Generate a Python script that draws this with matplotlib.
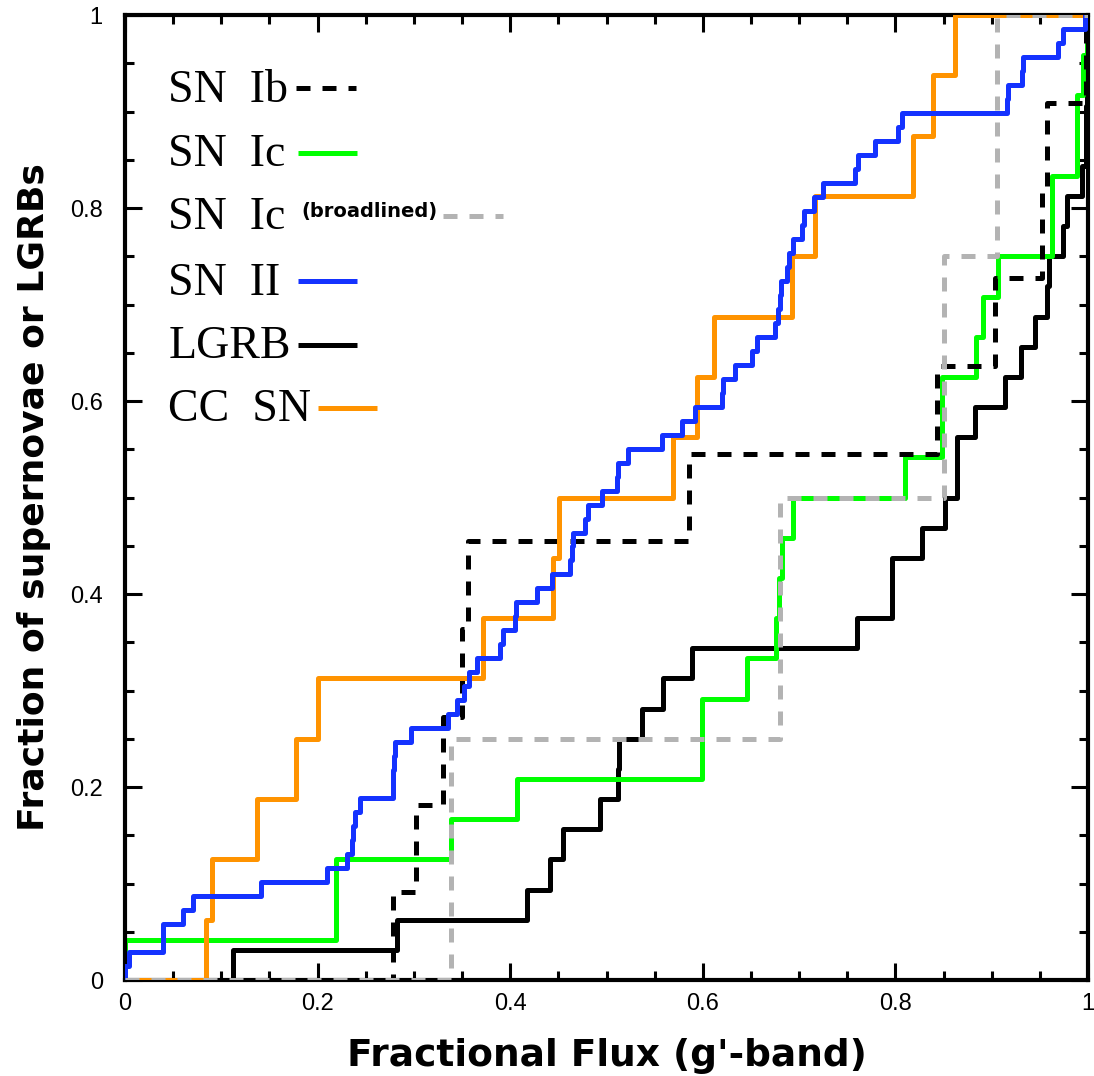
import numpy as np
import matplotlib
matplotlib.use('Agg')
import matplotlib.pyplot as plt
from matplotlib.ticker import MultipleLocator, FuncFormatter

# fractional flux (g'-band) of each object, sorted
sn_ib = [0.278, 0.302, 0.330, 0.350, 0.356, 0.586, 0.843, 0.903, 0.952, 0.957, 0.998]
sn_ic = [0.0, 0.219, 0.219, 0.338, 0.407, 0.599, 0.599, 0.646, 0.676, 0.679,
         0.682, 0.694, 0.810, 0.848, 0.848, 0.884, 0.891, 0.907, 0.963, 0.963,
         0.989, 0.989, 0.995, 0.999]
sn_ic_bl = [0.338, 0.680, 0.850, 0.906]
sn_ii = [0.0, 0.004, 0.039, 0.039, 0.060, 0.071, 0.141, 0.210, 0.231, 0.236,
         0.237, 0.239, 0.244, 0.278, 0.278, 0.279, 0.280, 0.297, 0.335, 0.345,
         0.352, 0.357, 0.366, 0.389, 0.393, 0.405, 0.406, 0.428, 0.443, 0.462,
         0.464, 0.465, 0.478, 0.481, 0.495, 0.511, 0.512, 0.522, 0.558, 0.578,
         0.592, 0.620, 0.621, 0.633, 0.651, 0.656, 0.675, 0.678, 0.680, 0.681,
         0.687, 0.690, 0.694, 0.703, 0.705, 0.715, 0.725, 0.758, 0.761, 0.779,
         0.803, 0.807, 0.916, 0.917, 0.931, 0.932, 0.969, 0.974, 0.997]
lgrb = [0.112, 0.282, 0.417, 0.441, 0.455, 0.493, 0.512, 0.513, 0.537, 0.559,
        0.589, 0.760, 0.796, 0.796, 0.828, 0.852, 0.864, 0.864, 0.883, 0.914,
        0.930, 0.945, 0.957, 0.960, 0.974, 0.978, 0.994, 0.998, 0.998, 0.999,
        0.999, 0.999]
cc_sn = [0.084, 0.090, 0.137, 0.178, 0.200, 0.372, 0.444, 0.451, 0.569, 0.594,
         0.612, 0.693, 0.717, 0.818, 0.839, 0.862]

c_green = '#00ff00'
c_grey = '#b3b3b3'
c_blue = '#1432ff'
c_orange = '#ff9300'
lw = 3.6
dash = (0, (2.8, 2.4))


def cdf(vals):
    v = np.sort(np.asarray(vals, dtype=float))
    n = len(v)
    x = np.concatenate([[0.0], v, [1.0]])
    y = np.concatenate([[0.0], np.arange(1, n + 1) / n, [1.0]])
    return x, y


fig = plt.figure(figsize=(10.94, 10.76), dpi=100)
ax = fig.add_axes([0.1143, 0.0892, 0.8802, 0.8968])

x, y = cdf(lgrb)
ax.step(x, y, where='post', color='black', lw=lw, zorder=2)
x, y = cdf(sn_ic)
ax.step(x, y, where='post', color=c_green, lw=lw, zorder=2)
x, y = cdf(sn_ib)
ax.step(x, y, where='post', color='black', lw=lw, ls=dash, zorder=3)
x, y = cdf(cc_sn)
ax.step(x, y, where='post', color=c_orange, lw=lw, zorder=3)
x, y = cdf(sn_ii)
ax.step(x, y, where='post', color=c_blue, lw=lw, zorder=4)
x, y = cdf(sn_ic_bl)
ax.step(x, y, where='post', color=c_grey, lw=lw, ls=dash, zorder=5)

ax.set_xlim(0, 1)
ax.set_ylim(0, 1)

# hand-made legend
tfont = dict(family='Liberation Serif', fontsize=33, va='center', ha='left')
rows = [('SN  Ib', 0.922, 'black', dash, 0.178, 0.240),
        ('SN  Ic', 0.855, c_green, '-', 0.180, 0.241),
        ('SN  Ic', 0.790, c_grey, dash, 0.330, 0.393),
        ('SN  II', 0.722, c_blue, '-', 0.180, 0.241),
        ('LGRB', 0.656, 'black', '-', 0.180, 0.241),
        ('CC  SN', 0.591, c_orange, '-', 0.200, 0.262)]
for label, yy, col, ls, x0, x1 in rows:
    ax.text(0.045, yy, label, transform=ax.transAxes, **tfont)
    ax.plot([x0, x1], [yy + 0.002, yy + 0.002], transform=ax.transAxes,
            color=col, lw=lw, ls=ls, solid_capstyle='butt')
ax.text(0.183, 0.796, '(broadlined)', transform=ax.transAxes,
        fontsize=14, fontweight='bold', family='DejaVu Sans', va='center', ha='left')

for s in ax.spines.values():
    s.set_linewidth(3)
ax.xaxis.set_major_locator(MultipleLocator(0.2))
ax.yaxis.set_major_locator(MultipleLocator(0.2))
ax.xaxis.set_minor_locator(MultipleLocator(0.05))
ax.yaxis.set_minor_locator(MultipleLocator(0.05))
fmt = FuncFormatter(lambda v, p: '0' if abs(v) < 1e-9 else ('1' if abs(v - 1) < 1e-9 else f'{v:.1f}'))
ax.xaxis.set_major_formatter(fmt)
ax.yaxis.set_major_formatter(fmt)
ax.tick_params(which='both', direction='in', top=True, right=True, width=2.2)
ax.tick_params(which='major', length=12, labelsize=17)
ax.tick_params(axis='x', which='major', pad=9)
ax.tick_params(axis='y', which='major', pad=16)
ax.tick_params(which='minor', length=6.5)
for lab in ax.get_xticklabels() + ax.get_yticklabels():
    lab.set_family('Liberation Sans')

ax.set_xlabel("Fractional Flux (g'-band)", fontsize=27, fontweight='bold', labelpad=17)
ax.set_ylabel('Fraction of supernovae or LGRBs', fontsize=26, fontweight='bold', labelpad=14)

fig.savefig('out.png', dpi=100)
